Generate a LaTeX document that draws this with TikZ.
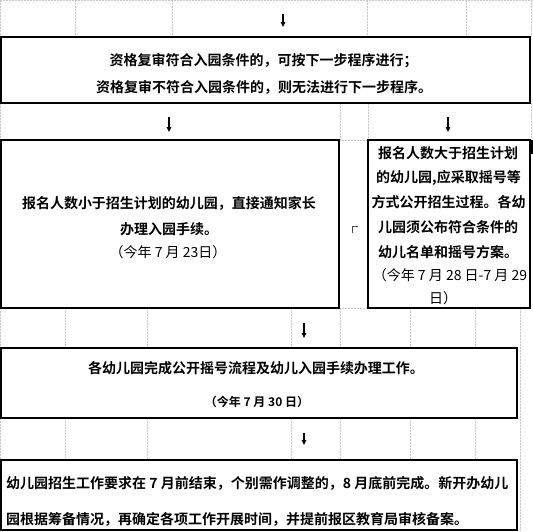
\documentclass[tikz,border=0pt]{standalone}
\usepackage{fontspec}
\newfontfamily\cjk{Noto Sans CJK SC}[BoldFont={Noto Sans CJK SC Bold}]
\usetikzlibrary{arrows.meta}
\begin{document}
\begin{tikzpicture}[x=1pt,y=-1pt,
 box/.style={draw=black,line width=1.2pt,anchor=north west,inner sep=0pt,outer sep=0pt},
 gridline/.style={draw=gray!45,line width=0.6pt,dash pattern=on 1.5pt off 1.5pt},
 arr/.style={line width=1.2pt,-{Triangle[length=5pt,width=4.5pt]}},
 bt/.style={font=\cjk\bfseries\fontsize{14}{16}\selectfont,inner sep=0pt},
 rt/.style={font=\cjk\fontsize{14}{16}\selectfont,inner sep=0pt},
 st/.style={font=\cjk\bfseries\fontsize{12}{14}\selectfont,inner sep=0pt}]
\useasboundingbox (0,0) rectangle (533,531);
\fill[white] (0,0) rectangle (533,531);
% grid lines
\draw[gridline] (0,0.5) -- (533,0.5);
\foreach \x in {0.5,75,172,367,466,531.5} \draw[gridline] (\x,0) -- (\x,37);
\foreach \x in {0.5,340,368,531.5} \draw[gridline] (\x,103) -- (\x,140);
\draw[gridline] (339,140) -- (368,140);
\draw[gridline] (339,308) -- (368,308);
\foreach \x in {0.5,65,147,291,340,410,475} {
  \draw[gridline] (\x,308) -- (\x,348);
  \draw[gridline] (\x,418) -- (\x,460);
}
\draw[gridline] (520,308) -- (520,531);
% boxes
\node[box,minimum width=529pt,minimum height=66pt] (b1) at (1,37) {};
\node[box,minimum width=338pt,minimum height=168pt] (b2) at (1,140) {};
\node[box,minimum width=162pt,minimum height=168pt] (b3) at (368,140) {};
\node[box,minimum width=516pt,minimum height=70pt] (b4) at (1,348) {};
\node[box,minimum width=516pt,minimum height=70pt] (b5) at (1,460) {};
% texts
\node[bt] (t11) at (263.5,61) {资格复审符合入园条件的，可按下一步程序进行；};
\node[bt] (t12) at (264,87) {资格复审不符合入园条件的，则无法进行下一步程序。};
\node[bt] (t21) at (169,203) {报名人数小于招生计划的幼儿园，直接通知家长};
\node[bt] (t22) at (169,229) {办理入园手续。};
\node[rt] (t23) at (168,252) {（今年 7 月 23日）};
\node[bt] (t31) at (448,153) {报名人数大于招生计划};
\node[bt] (t32) at (448.5,178) {的幼儿园,应采取摇号等};
\node[bt] (t33) at (448.5,202) {方式公开招生过程。各幼};
\node[bt] (t34) at (448,227) {儿园须公布符合条件的};
\node[bt] (t35) at (448,252) {幼儿名单和摇号方案。};
\node[rt] (t36) at (450,275) {（今年 7 月 28 日-7 月 29};
\node[rt] (t37) at (443,298) {日）};
\node[bt] (t41) at (256,368) {各幼儿园完成公开摇号流程及幼儿入园手续办理工作。};
\node[st] (t42) at (257,402) {（今年 7 月 30 日）};
\node[bt,anchor=west] (t51) at (6,483) {幼儿园招生工作要求在 7 月前结束，个别需作调整的，8 月底前完成。新开办幼儿};
\node[bt,anchor=west] (t52) at (6,519) {园根据筹备情况，再确定各项工作开展时间，并提前报区教育局审核备案。};
% arrows
\coordinate (a0s) at (283,14); \coordinate (a0e) at (283,27);
\coordinate (a1s) at (169,117); \coordinate (a1e) at (169,132);
\coordinate (a2s) at (448,117); \coordinate (a2e) at (448,132);
\coordinate (a3s) at (304,323); \coordinate (a3e) at (304,338);
\coordinate (a4s) at (304,433); \coordinate (a4e) at (304,445);
\draw[arr] (a0s) -- (a0e);
\draw[arr] (a1s) -- (a1e);
\draw[arr] (a2s) -- (a2e);
\draw[arr] (a3s) -- (a3e);
\draw[arr] (a4s) -- (a4e);
% small marks
\draw[line width=0.7pt,black!70] (352,233) -- (352,226) -- (358,226);
\draw[line width=2pt,black] (532,140) -- (532,154);
\end{tikzpicture}
\end{document}
